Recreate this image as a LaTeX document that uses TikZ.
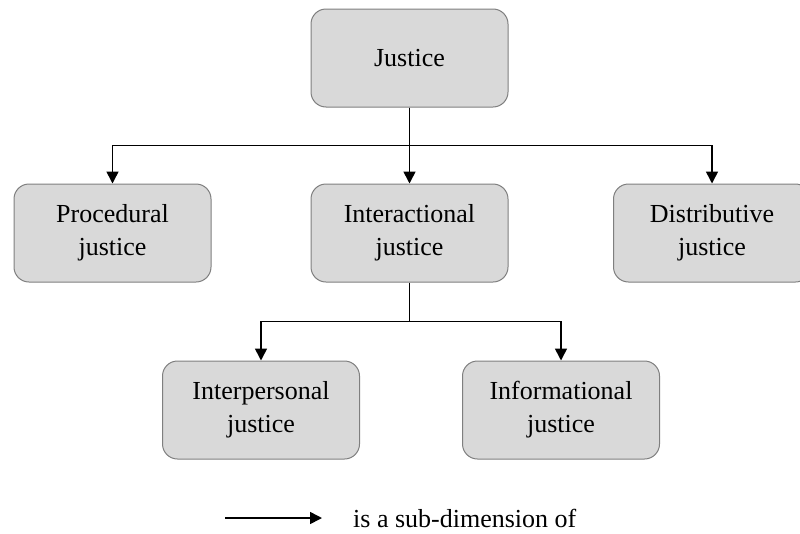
\documentclass[tikz,border=0pt]{standalone}
\usepackage{fontspec}
\setmainfont{Liberation Serif}
\usepackage{tikz}
\usetikzlibrary{positioning, arrows.meta, calc}
\definecolor{boxfill}{HTML}{D9D9D9}
\definecolor{boxline}{HTML}{7F7F7F}
\tikzset{
	>={Triangle[width=12pt,length=12pt]}, % filled triangular arrow heads
	dim/.style={draw=boxline, line width=1pt, fill=boxfill, rounded corners=15pt,
		minimum width=197pt, minimum height=98pt, align=center,
		font=\fontsize{26}{33}\selectfont}, % one box per dimension
	sub/.style={->, line width=1.6pt}, % the "is a sub-dimension of" connector
}
\begin{document}
\begin{tikzpicture}[x=1pt,y=-1pt]
		\useasboundingbox (0,0) rectangle (800,533);
		\clip (0,0) rectangle (800,533);

		\node[dim](justice) at (409.5,58){Justice};
		\node[dim](proc) at (112.5,233){Procedural\\justice};
		\node[dim](inter) at (409.5,233){Interactional\\justice};
		\node[dim](distr) at (712,233){Distributive\\justice};
		\node[dim](interp) at (261,410){Interpersonal\\justice};
		\node[dim](inform) at (561,410){Informational\\justice};

		\coordinate (split1) at ($(justice.south)!0.5!(inter.north)$);
		\coordinate (split2) at ($(inter.south)!0.5!(interp.north)$);

		\draw[sub] (justice) -- (inter);
		\draw[sub] (justice.south) -- (split1) -| (proc.north);
		\draw[sub] (justice.south) -- (split1) -| (distr.north);

		\draw[sub] (inter.south) -- (inter.south |- split2) -| (interp.north);
		\draw[sub] (inter.south) -- (inter.south |- split2) -| (inform.north);

		% legend
		\coordinate (leg1) at (225,518);
		\node[right=31pt of leg1, xshift=97pt, inner sep=0pt, font=\fontsize{26}{33}\selectfont](legtext){is a sub-dimension of};
		\draw[sub] (leg1) -- ++(97,0);
	\end{tikzpicture}
\end{document}
